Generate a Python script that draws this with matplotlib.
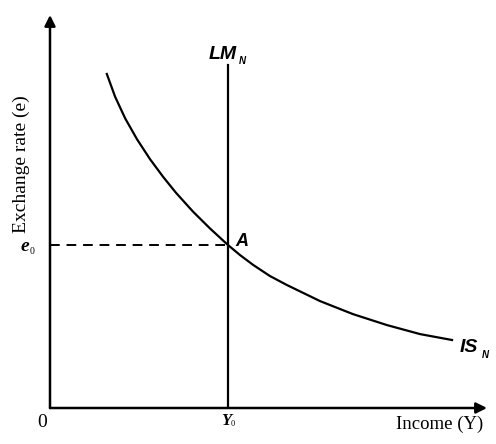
import matplotlib.pyplot as plt

# IS curve (income, exchange rate), both axes run 0-100
is_income = [13.0, 14.9, 17.2, 19.9, 22.9, 25.9, 28.8, 32.7, 36.6, 40.7,
             43.5, 46.5, 50.3, 54.2, 61.8, 69.3, 77.1, 84.7, 92.0]
is_rate = [85.0, 79.2, 73.7, 68.4, 63.3, 58.8, 54.8, 50.0, 45.7, 41.5,
           38.9, 36.4, 33.6, 31.3, 27.2, 23.9, 21.1, 18.8, 17.3]

# vertical LM curve and equilibrium A
y0 = 40.7
e0 = 41.5
lm_top = 87.3

fig = plt.figure(figsize=(4.96, 4.44), dpi=100)
ax = fig.add_axes([50 / 496, 36 / 444, 437 / 496, 393 / 444])
ax.set_xlim(0, 100)
ax.set_ylim(0, 100)
ax.axis("off")

serif = "Liberation Serif"
sans = "Liberation Sans"

# axes with arrow heads
arrow = dict(arrowstyle="-|>", color="black", lw=1.8, mutation_scale=16, shrinkA=0, shrinkB=0)
ax.annotate("", xy=(100, 0), xytext=(0, 0), arrowprops=arrow, annotation_clip=False)
ax.annotate("", xy=(0, 100), xytext=(0, 0), arrowprops=arrow, annotation_clip=False)

# curves
ax.plot(is_income, is_rate, color="black", lw=1.6, solid_joinstyle="round")
ax.plot([y0, y0], [0, lm_top], color="black", lw=1.6)
ax.plot([0, y0], [e0, e0], color="black", lw=1.4, dashes=(5, 3.5))

# curve labels
ax.text(39.6, 88.8, "LM", ha="center", va="baseline", fontsize=14,
        fontfamily=sans, fontstyle="italic", fontweight="bold")
ax.text(43.1, 87.6, "N", ha="left", va="baseline", fontsize=7,
        fontfamily=sans, fontstyle="italic", fontweight="bold")
ax.text(93.8, 14.3, "IS", ha="left", va="baseline", fontsize=14,
        fontfamily=sans, fontstyle="italic", fontweight="bold")
ax.text(98.9, 12.8, "N", ha="left", va="baseline", fontsize=7,
        fontfamily=sans, fontstyle="italic", fontweight="bold")
ax.text(42.4, 41.2, "A", ha="left", va="baseline", fontsize=13,
        fontfamily=sans, fontstyle="italic", fontweight="bold")

# axis values and titles
ax.text(-4.8, 40.0, "e", ha="right", va="baseline", fontsize=14,
        fontfamily=serif, fontstyle="italic", fontweight="bold")
ax.text(-4.6, 39.2, "0", ha="left", va="baseline", fontsize=7, fontfamily=serif)
ax.text(40.3, -1.3, "Y", ha="center", va="top", fontsize=12,
        fontfamily=serif, fontstyle="italic", fontweight="bold")
ax.text(41.4, -4.6, "0", ha="left", va="baseline", fontsize=6, fontfamily=serif)
ax.text(-1.8, -3.6, "0", ha="center", va="center", fontsize=14, fontfamily=serif)
ax.text(89.2, -2.0, "Income (Y)", ha="center", va="top", fontsize=13.5, fontfamily=serif)
ax.text(-6.6, 62, "Exchange rate (e)", ha="center", va="center", rotation=90,
        fontsize=14, fontfamily=serif)

fig.savefig("out.png", dpi=100)
